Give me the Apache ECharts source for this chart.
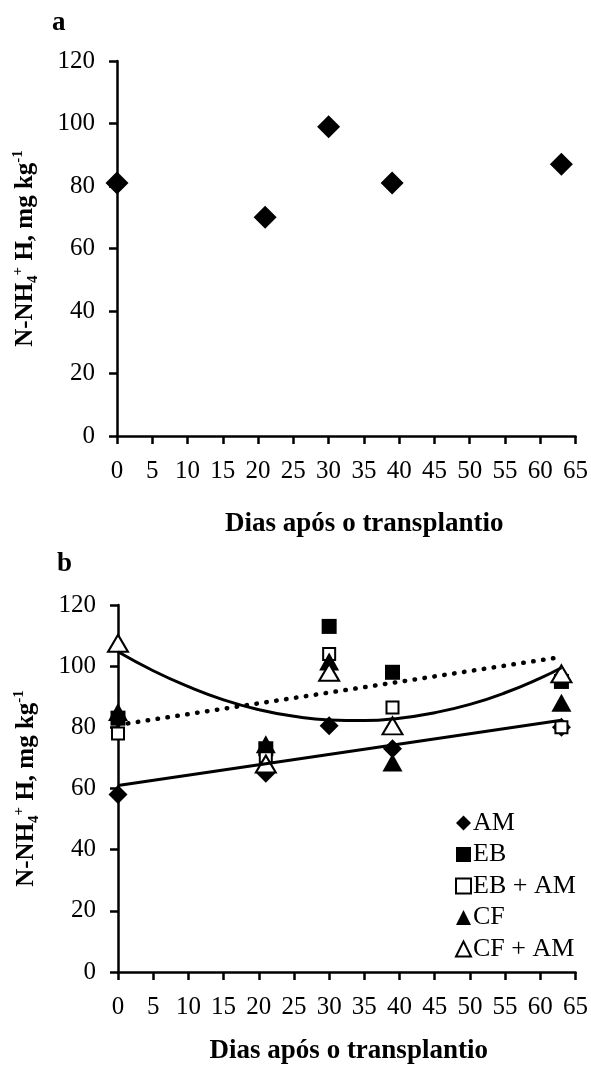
<!DOCTYPE html>
<html>
<head>
<meta charset="utf-8">
<script src="https://cdn.jsdelivr.net/npm/echarts@6/dist/echarts.min.js"></script>
<style>
html,body{margin:0;padding:0;background:#fff;}
#chart{width:591px;height:1066px;}
</style>
</head>
<body>
<div id="chart"></div>
<script>
// ---- data ----
const xTicks = [0, 65, 5];          // min, max, interval (days)
const yTicks = [0, 120, 20];        // min, max, interval
const days = [0, 21, 30, 39, 63];
const panelA = [81, 70, 99, 81, 87];
const seriesNames = ['AM', 'EB', 'EB + AM', 'CF', 'CF + AM'];
const am   = [58, 65, 80.5, 73, 80];
const eb   = [83, 73, 113, 98, 95];
const ebAm = [78, 70.5, 104, 86.5, 80];
const cf   = [85, 74.5, 101.5, 68.5, 88];
const cfAm = [107.5, 68, 98, 80.5, 97.5];
// trend lines
const lineSolidX = [0, 63];
const lineSolidY = [61, 82.3];
const lineDotX = [0, 63];
const lineDotY = [80.8, 103];
const curveX = [0, 5, 10, 15, 20, 25, 30, 35, 40, 45, 50, 55, 60, 63];
const curveY = [104.7, 98.5, 93.3, 89.0, 85.8, 83.6, 82.4, 82.2, 83.0, 84.8, 87.5, 91.3, 96.1, 99.5];

const xTitle = 'Dias após o transplantio';
const yTitle = '{b|N-NH}{sub|4}{sup|+}{b| H, mg kg}{sup|-1}';

const pair = (xs, ys) => xs.map((x, i) => [x, ys[i]]);

const FONT = 'Liberation Serif';
const axisCommon = {
  type: 'value',
  axisLine: { show: true, lineStyle: { color: '#000', width: 2.5 } },
  axisTick: { show: true, length: 8, lineStyle: { color: '#000', width: 2.5 } },
  splitLine: { show: false },
  axisLabel: { color: '#000', fontFamily: FONT, fontSize: 25 }
};
function xAxis(gridIndex, gap, pad) {
  return Object.assign({}, axisCommon, {
    gridIndex, min: xTicks[0], max: xTicks[1], interval: xTicks[2],
    axisLabel: Object.assign({}, axisCommon.axisLabel, { margin: 23 }),
    name: xTitle, nameLocation: 'middle', nameGap: gap,
    nameTextStyle: { color: '#000', fontFamily: FONT, fontWeight: 'bold', fontSize: 27, padding: pad }
  });
}
function yAxis(gridIndex) {
  return Object.assign({}, axisCommon, {
    gridIndex, min: yTicks[0], max: yTicks[1], interval: yTicks[2],
    axisLabel: Object.assign({}, axisCommon.axisLabel, { margin: 22 }),
    name: yTitle, nameLocation: 'middle', nameRotate: 90, nameGap: 76,
    nameTextStyle: {
      color: '#000', fontFamily: FONT,
      rich: {
        b: { fontFamily: FONT, fontWeight: 'bold', fontSize: 25, color: '#000', lineHeight: 30 },
        sub: { fontFamily: FONT, fontWeight: 'bold', fontSize: 15, color: '#000', verticalAlign: 'bottom', lineHeight: 15 },
        sup: { fontFamily: FONT, fontWeight: 'bold', fontSize: 15, color: '#000', verticalAlign: 'top', lineHeight: 15 }
      }
    }
  });
}

const filled = { color: '#000', opacity: 1 };
const open = { color: '#fff', borderColor: '#000', borderWidth: 2, opacity: 1 };

const option = {
  animation: false,
  backgroundColor: '#fff',
  grid: [
    { left: 117, right: 15, top: 61, height: 375 },
    { left: 118, right: 11, top: 605, height: 380 }
  ],
  xAxis: [xAxis(0, 75, [0, 0, 0, 36]), xAxis(1, 66, [0, 0, 0, 4])],
  yAxis: [yAxis(0), yAxis(1)],
  legend: {
    data: seriesNames,
    orient: 'vertical',
    left: 450, top: 803,
    itemWidth: 15, itemHeight: 15, itemGap: 1.5,
    textStyle: { color: '#000', fontFamily: FONT, fontSize: 26, padding: [0, 0, 0, -3], lineHeight: 30 }
  },
  graphic: [
    { type: 'text', left: 52, top: 10, style: { text: 'a', font: 'bold 27px "Liberation Serif"', fill: '#000' } },
    { type: 'text', left: 57, top: 551, style: { text: 'b', font: 'bold 27px "Liberation Serif"', fill: '#000' } }
  ],
  series: [
    { type: 'scatter', xAxisIndex: 0, yAxisIndex: 0, symbol: 'diamond', symbolSize: 23,
      itemStyle: filled, data: pair(days, panelA), clip: false },
    { type: 'line', xAxisIndex: 1, yAxisIndex: 1, data: pair(lineSolidX, lineSolidY), symbol: 'none',
      lineStyle: { color: '#000', width: 3 }, z: 5, silent: true },
    { type: 'line', xAxisIndex: 1, yAxisIndex: 1, data: pair(lineDotX, lineDotY), symbol: 'none',
      lineStyle: { color: '#000', width: 4.5, type: [0.5, 9.5], cap: 'round' }, z: 5, silent: true },
    { type: 'line', xAxisIndex: 1, yAxisIndex: 1, data: pair(curveX, curveY), symbol: 'none', smooth: true,
      lineStyle: { color: '#000', width: 3 }, z: 5, silent: true },
    { name: seriesNames[0], type: 'scatter', xAxisIndex: 1, yAxisIndex: 1, symbol: 'diamond', symbolSize: 19,
      itemStyle: filled, data: pair(days, am), clip: false },
    { name: seriesNames[1], type: 'scatter', xAxisIndex: 1, yAxisIndex: 1, symbol: 'rect', symbolSize: 15,
      itemStyle: filled, data: pair(days, eb), clip: false },
    { name: seriesNames[2], type: 'scatter', xAxisIndex: 1, yAxisIndex: 1, symbol: 'rect', symbolSize: 12,
      itemStyle: open, data: pair(days, ebAm), clip: false },
    { name: seriesNames[3], type: 'scatter', xAxisIndex: 1, yAxisIndex: 1, symbol: 'triangle', symbolSize: [20, 18],
      itemStyle: filled, data: pair(days, cf), clip: false },
    { name: seriesNames[4], type: 'scatter', xAxisIndex: 1, yAxisIndex: 1, symbol: 'triangle', symbolSize: [20, 17],
      itemStyle: open, data: pair(days, cfAm), clip: false }
  ]
};
const chart = echarts.init(document.getElementById('chart'), null, { renderer: 'canvas' });
chart.setOption(option);
</script>
</body>
</html>
